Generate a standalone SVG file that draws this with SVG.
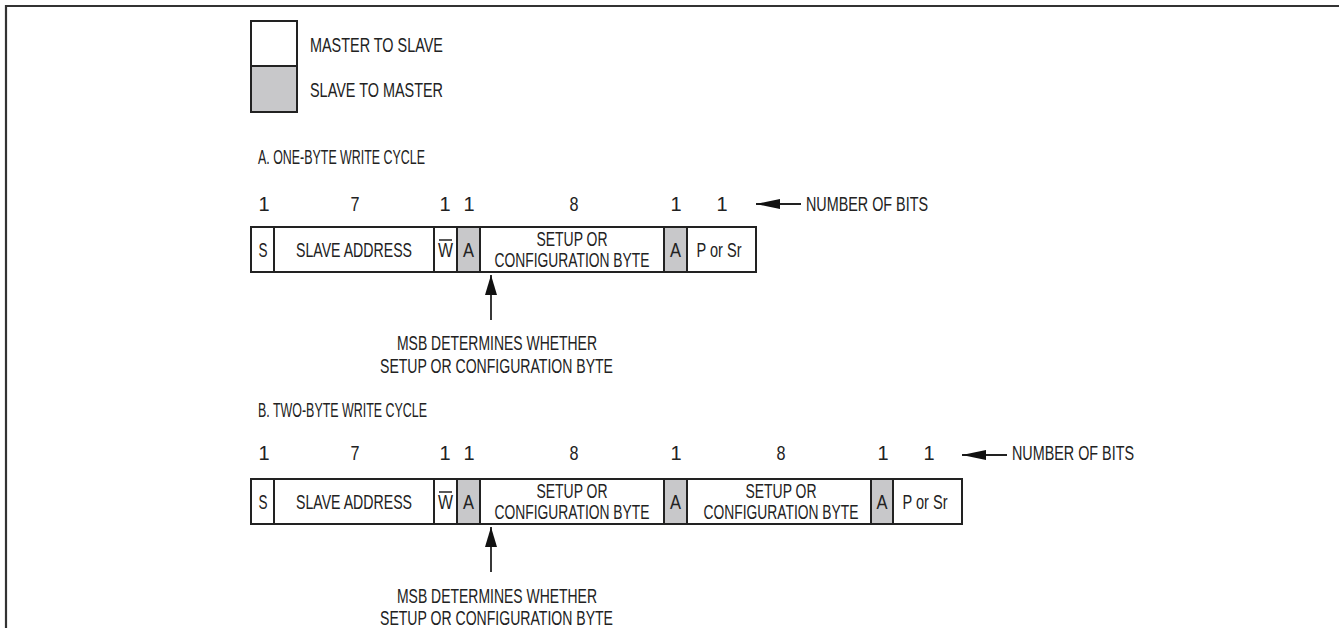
<svg xmlns="http://www.w3.org/2000/svg" width="1339" height="628" viewBox="0 0 1339 628">
<style>
text{font-family:"Liberation Sans Narrow","Liberation Sans",Arial,sans-serif;font-size:20px;fill:#222;}
.c{text-anchor:middle;}
.box{fill:#fff;stroke:#222;stroke-width:2;}
.g{fill:#c8c8ca;stroke:#222;stroke-width:2;}
.ln{stroke:#222;stroke-width:1.8;fill:none;}
</style>
<defs>
<marker id="ah" viewBox="0 0 24 12" refX="24" refY="6" markerWidth="24" markerHeight="12" markerUnits="userSpaceOnUse" orient="auto">
<path d="M0,1 L24,6 L0,11 Z" fill="#111"/>
</marker>
<marker id="ahv" viewBox="0 0 20 12" refX="20" refY="6" markerWidth="20" markerHeight="12" markerUnits="userSpaceOnUse" orient="auto">
<path d="M0,0 L20,6 L0,12 Z" fill="#111"/>
</marker>
</defs>
<rect width="1339" height="628" fill="#fff"/>
<g id="frame">
<path d="M6,628 L6,6 L1339,6" fill="none" stroke="#333" stroke-width="2.2"/>
</g>
<g id="legend">
<rect class="box" x="251" y="21" width="46" height="45"/>
<rect class="g" x="251" y="66" width="46" height="46"/>
<text x="310" y="52" textLength="133" lengthAdjust="spacingAndGlyphs">MASTER TO SLAVE</text>
<text x="310" y="97" textLength="133" lengthAdjust="spacingAndGlyphs">SLAVE TO MASTER</text>
</g>
<g id="labelA"><text x="258" y="164" textLength="167" lengthAdjust="spacingAndGlyphs">A. ONE-BYTE WRITE CYCLE</text></g>
<g id="labelB"><text x="258" y="417" textLength="169" lengthAdjust="spacingAndGlyphs">B. TWO-BYTE WRITE CYCLE</text></g>
<g id="bitsA">
<text class="c" x="264" y="211">1</text>
<text class="c" x="355" y="211" textLength="9" lengthAdjust="spacingAndGlyphs">7</text>
<text class="c" x="445" y="211">1</text>
<text class="c" x="469" y="211">1</text>
<text class="c" x="574" y="211" textLength="9" lengthAdjust="spacingAndGlyphs">8</text>
<text class="c" x="676" y="211">1</text>
<text class="c" x="722" y="211">1</text>
<text x="806" y="211" textLength="122" lengthAdjust="spacingAndGlyphs">NUMBER OF BITS</text>
</g>
<g id="frameA">
<rect class="box" x="251" y="227" width="23" height="45"/>
<text class="c" x="263" y="257" textLength="9" lengthAdjust="spacingAndGlyphs">S</text>
<rect class="box" x="274" y="227" width="160" height="45"/>
<text class="c" x="354" y="257" textLength="116" lengthAdjust="spacingAndGlyphs">SLAVE ADDRESS</text>
<rect class="box" x="434" y="227" width="23" height="45"/>
<text class="c" x="445.5" y="257" textLength="15" lengthAdjust="spacingAndGlyphs">W</text>
<line x1="439" y1="240" x2="452" y2="240" stroke="#222" stroke-width="1.5"/>
<rect class="g" x="457" y="227" width="23" height="45"/>
<text class="c" x="468.5" y="257" textLength="11" lengthAdjust="spacingAndGlyphs">A</text>
<rect class="box" x="480" y="227" width="184" height="45"/>
<text class="c" x="572" y="246" textLength="71" lengthAdjust="spacingAndGlyphs">SETUP OR</text>
<text class="c" x="572" y="267" textLength="155" lengthAdjust="spacingAndGlyphs">CONFIGURATION BYTE</text>
<rect class="g" x="664" y="227" width="23" height="45"/>
<text class="c" x="675.5" y="257" textLength="11" lengthAdjust="spacingAndGlyphs">A</text>
<rect class="box" x="687" y="227" width="69" height="45"/>
<text class="c" x="719" y="257" textLength="45" lengthAdjust="spacingAndGlyphs">P or Sr</text>
</g>
<g id="noteA">
<text class="c" x="497" y="350" textLength="200" lengthAdjust="spacingAndGlyphs">MSB DETERMINES WHETHER</text>
<text class="c" x="496.5" y="373" textLength="233" lengthAdjust="spacingAndGlyphs">SETUP OR CONFIGURATION BYTE</text>
</g>
<g id="bitsB">
<text class="c" x="264" y="460">1</text>
<text class="c" x="355" y="460" textLength="9" lengthAdjust="spacingAndGlyphs">7</text>
<text class="c" x="445" y="460">1</text>
<text class="c" x="469" y="460">1</text>
<text class="c" x="574" y="460" textLength="9" lengthAdjust="spacingAndGlyphs">8</text>
<text class="c" x="676" y="460">1</text>
<text class="c" x="781" y="460" textLength="9" lengthAdjust="spacingAndGlyphs">8</text>
<text class="c" x="883" y="460">1</text>
<text class="c" x="929" y="460">1</text>
<text x="1012" y="460" textLength="122" lengthAdjust="spacingAndGlyphs">NUMBER OF BITS</text>
</g>
<g id="frameB">
<rect class="box" x="251" y="479" width="23" height="45"/>
<text class="c" x="263" y="509" textLength="9" lengthAdjust="spacingAndGlyphs">S</text>
<rect class="box" x="274" y="479" width="160" height="45"/>
<text class="c" x="354" y="509" textLength="116" lengthAdjust="spacingAndGlyphs">SLAVE ADDRESS</text>
<rect class="box" x="434" y="479" width="23" height="45"/>
<text class="c" x="445.5" y="509" textLength="15" lengthAdjust="spacingAndGlyphs">W</text>
<line x1="439" y1="492" x2="452" y2="492" stroke="#222" stroke-width="1.5"/>
<rect class="g" x="457" y="479" width="23" height="45"/>
<text class="c" x="468.5" y="509" textLength="11" lengthAdjust="spacingAndGlyphs">A</text>
<rect class="box" x="480" y="479" width="184" height="45"/>
<text class="c" x="572" y="498" textLength="71" lengthAdjust="spacingAndGlyphs">SETUP OR</text>
<text class="c" x="572" y="519" textLength="155" lengthAdjust="spacingAndGlyphs">CONFIGURATION BYTE</text>
<rect class="g" x="664" y="479" width="23" height="45"/>
<text class="c" x="675.5" y="509" textLength="11" lengthAdjust="spacingAndGlyphs">A</text>
<rect class="box" x="687" y="479" width="184" height="45"/>
<text class="c" x="781" y="498" textLength="71" lengthAdjust="spacingAndGlyphs">SETUP OR</text>
<text class="c" x="781" y="519" textLength="155" lengthAdjust="spacingAndGlyphs">CONFIGURATION BYTE</text>
<rect class="g" x="871" y="479" width="22" height="45"/>
<text class="c" x="882" y="509" textLength="11" lengthAdjust="spacingAndGlyphs">A</text>
<rect class="box" x="893" y="479" width="69" height="45"/>
<text class="c" x="925" y="509" textLength="45" lengthAdjust="spacingAndGlyphs">P or Sr</text>
</g>
<g id="noteB">
<text class="c" x="497" y="603" textLength="200" lengthAdjust="spacingAndGlyphs">MSB DETERMINES WHETHER</text>
<text class="c" x="496.5" y="625" textLength="233" lengthAdjust="spacingAndGlyphs">SETUP OR CONFIGURATION BYTE</text>
</g>
<g id="connectors">
<line class="ln" x1="801" y1="204" x2="756" y2="204" marker-end="url(#ah)"/>
<line class="ln" x1="1007" y1="455" x2="962" y2="455" marker-end="url(#ah)"/>
<line class="ln" x1="491" y1="320" x2="491" y2="275" marker-end="url(#ahv)"/>
<line class="ln" x1="491" y1="572" x2="491" y2="527" marker-end="url(#ahv)"/>
</g>
</svg>
